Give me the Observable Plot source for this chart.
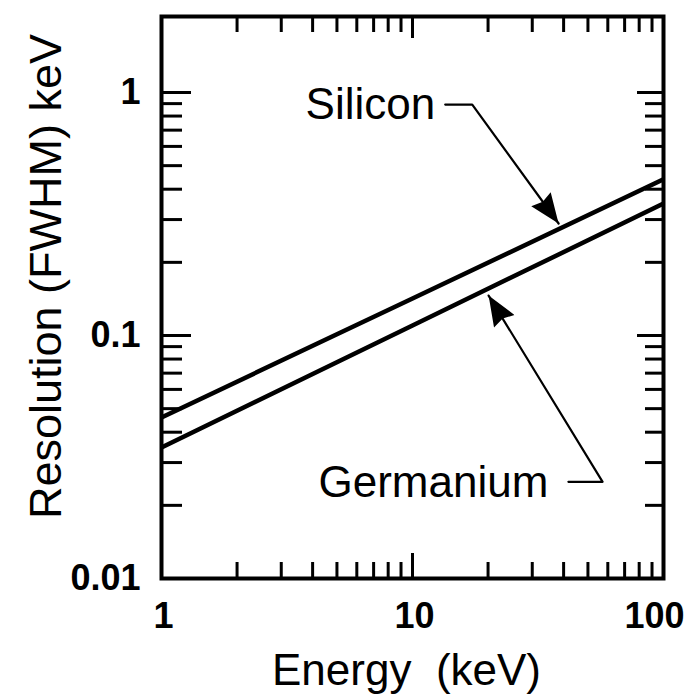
<!DOCTYPE html>
<html><head><meta charset="utf-8">
<script src="https://cdn.jsdelivr.net/npm/d3@7"></script>
<script src="https://cdn.jsdelivr.net/npm/@observablehq/plot@0.6"></script>
<style>html,body{margin:0;padding:0;background:#fff}</style>
</head><body><div id="chart"></div>
<script>
// ---- data ----
const energy = [1, 10, 100];
const silicon = [0.046, 0.142, 0.439];
const germanium = [0.0346, 0.110, 0.349];

const xTickLabels = [1, 10];
const xLastTickLabel = [100];
const xMajorTicks = [10];
const xMinorTicks = [2, 3, 4, 5, 6, 7, 8, 9, 20, 30, 40, 50, 60, 70, 80, 90];
const yTickLabels = [0.01, 0.1, 1];
const yMajorTicks = [0.1, 1];
const yMinorTicks = [0.02, 0.03, 0.04, 0.05, 0.06, 0.07, 0.08, 0.09, 0.2, 0.3, 0.4, 0.5, 0.6, 0.7, 0.8, 0.9];

const labelNames = ["Silicon", "Germanium"];
const labelX = [3.75, 4.22];
const labelY = [0.892, 0.0248];
const leaderX = [[13.5, 17.3, 38.2], [41.8, 57.2, 20.1]];
const leaderY = [[0.892, 0.892, 0.289], [0.025, 0.025, 0.146]];

const xTitle = "Energy\u00a0\u00a0(keV)";
const yTitle = "Resolution (FWHM) keV";

// ---- derived tables ----
const curves = [
  ...energy.map((e, i) => ({name: "Silicon", x: e, y: silicon[i]})),
  ...energy.map((e, i) => ({name: "Germanium", x: e, y: germanium[i]}))
];
const leaders = labelNames.flatMap((n, k) => leaderX[k].map((x, i) => ({name: n, x, y: leaderY[k][i]})));

const W = 690, H = 695;
const mL = 161, mR = 27, mT = 16, mB = 117;
const iH = H - mT - mB, iW = W - mL - mR;
const font = "'Liberation Sans', Arial, Helvetica, sans-serif";

function filledArrow(color) {
  const m = d3.create("svg:marker")
    .attr("viewBox", "-31 -12 32 24")
    .attr("markerUnits", "userSpaceOnUse")
    .attr("markerWidth", 32).attr("markerHeight", 24)
    .attr("refX", 0).attr("refY", 0)
    .attr("orient", "auto")
    .attr("fill", color).attr("stroke", "none");
  m.append("path").attr("d", "M0,0L-30,-12L-27,0L-30,12Z");
  return m.node();
}

const tickLabelStyle = {tickSize: 0, label: null, tickFormat: d => String(d), fontSize: 36, fontWeight: "bold"};

const chart = Plot.plot({
  width: W, height: H,
  marginLeft: mL, marginRight: mR, marginTop: mT, marginBottom: mB,
  style: {fontFamily: font, background: "#fff", color: "#000", overflow: "visible"},
  x: {type: "log", domain: [1, 100]},
  y: {type: "log", domain: [0.01, 0.01 * Math.pow(10, iH / 243)]},
  marks: [
    // ticks (inward, all four sides)
    Plot.tickX(xMinorTicks, {x: d => d, insetTop: iH - 16, strokeWidth: 3}),
    Plot.tickX(xMinorTicks, {x: d => d, insetBottom: iH - 16, strokeWidth: 3}),
    Plot.tickX(xMajorTicks, {x: d => d, insetTop: iH - 25, strokeWidth: 3}),
    Plot.tickX(xMajorTicks, {x: d => d, insetBottom: iH - 22, strokeWidth: 3}),
    Plot.tickY(yMinorTicks, {y: d => d, insetRight: iW - 21, strokeWidth: 3}),
    Plot.tickY(yMinorTicks, {y: d => d, insetLeft: iW - 18, strokeWidth: 3}),
    Plot.tickY(yMajorTicks, {y: d => d, insetRight: iW - 30, strokeWidth: 3}),
    Plot.tickY(yMajorTicks, {y: d => d, insetLeft: iW - 26, strokeWidth: 3}),
    Plot.frame({strokeWidth: 4}),
    // tick labels
    Plot.axisX(xTickLabels, {anchor: "bottom", tickPadding: 24, dx: 2, ...tickLabelStyle}),
    Plot.axisX(xLastTickLabel, {anchor: "bottom", tickPadding: 24, dx: -9, ...tickLabelStyle}),
    Plot.axisY(yTickLabels, {anchor: "left", tickPadding: 21, ...tickLabelStyle}),
    // curves
    Plot.line(curves, {x: "x", y: "y", z: "name", stroke: "#000", strokeWidth: 4.5, clip: true}),
    // annotations
    Plot.line(leaders, {x: "x", y: "y", z: "name", stroke: "#000", strokeWidth: 2.2, markerEnd: filledArrow}),
    Plot.text(labelNames, {x: (d, i) => labelX[i], y: (d, i) => labelY[i], text: d => d,
      textAnchor: "start", fontSize: 44}),
    // axis titles
    Plot.text([xTitle], {text: d => d, frameAnchor: "bottom", textAnchor: "middle", lineAnchor: "bottom",
      dx: -6, dy: 106, fontSize: 44}),
    Plot.text([yTitle], {text: d => d, frameAnchor: "left", textAnchor: "middle", lineAnchor: "middle",
      rotate: -90, dx: -115, dy: -21, fontSize: 45})
  ]
});
document.getElementById("chart").appendChild(chart);
</script>
</body></html>
